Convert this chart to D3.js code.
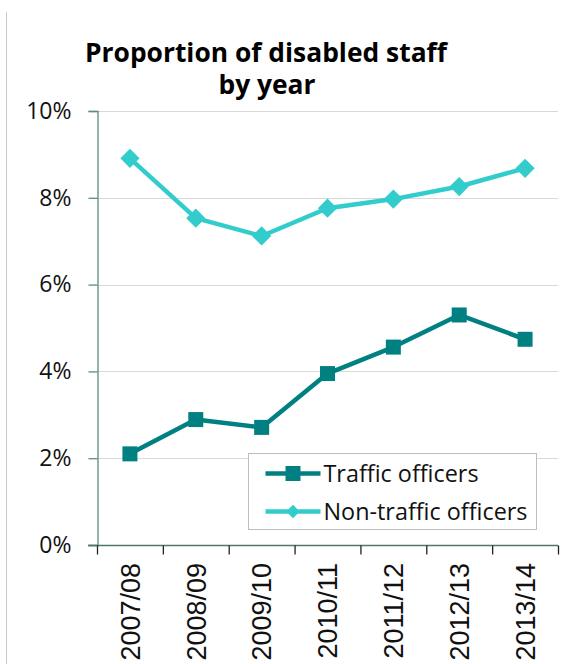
<!DOCTYPE html>
<html>
<head>
<meta charset="utf-8">
<script src="https://cdn.jsdelivr.net/npm/d3@7"></script>
<style>
  html, body { margin: 0; padding: 0; background: #fff; }
  svg { display: block; }
  text { font-variant-ligatures: none; }
</style>
</head>
<body>
<div id="chart"></div>
<script>
"use strict";

// --- data ---
const years = ["2007/08", "2008/09", "2009/10", "2010/11", "2011/12", "2012/13", "2013/14"];
const trafficOfficers = [2.10, 2.89, 2.71, 3.95, 4.56, 5.30, 4.74];
const nonTrafficOfficers = [8.91, 7.53, 7.12, 7.76, 7.97, 8.26, 8.68];
const yTicks = [0, 2, 4, 6, 8, 10];
const titleLines = ["Proportion of disabled staff", "by year"];
const series = [
    { name: "Traffic officers", values: trafficOfficers, color: "#008080", shape: "square" },
    { name: "Non-traffic officers", values: nonTrafficOfficers, color: "#33CCCC", shape: "diamond" }
];

const W = 580, H = 664;
const M = { left: 97, right: 558, top: 111, bottom: 545 };
const UI_FONT = "'Open Sans', Lato, sans-serif";

const svg = d3.select("#chart").append("svg").attr("width", W).attr("height", H);

// shrink/grow a text's font so it spans roughly the wanted width
const fitWidth = (sel, want) => {
    const node = sel.node();
    const fs = parseFloat(sel.style("font-size"));
    const got = node.getComputedTextLength();
    if (got > 0) sel.style("font-size", (fs * want / got).toFixed(2) + "px");
};

// chart frame edge on the left
svg.append("line")
    .attr("x1", 6.5).attr("x2", 6.5).attr("y1", 12).attr("y2", H)
    .attr("stroke", "#c8c8c8").attr("stroke-width", 1);

// scales
const x = d3.scaleLinear().domain([0, years.length]).range([M.left, M.right]);
const y = d3.scaleLinear().domain([0, 10]).range([M.bottom, M.top]);
const cx = i => x(i + 0.5);

// title (bold face squeezed to the reference width)
const title = svg.append("text")
    .attr("text-anchor", "middle")
    .style("font-family", UI_FONT).style("font-weight", "bold").style("font-size", "27px")
    .attr("fill", "#000");
title.append("tspan").attr("x", 266).attr("y", 62)
    .attr("textLength", 362).attr("lengthAdjust", "spacingAndGlyphs").text(titleLines[0]);
title.append("tspan").attr("x", 267).attr("y", 94)
    .attr("textLength", 97).attr("lengthAdjust", "spacingAndGlyphs").text(titleLines[1]);

// gridlines
svg.append("g")
    .selectAll("line").data(yTicks.filter(t => t > 0)).enter().append("line")
    .attr("x1", M.left).attr("x2", M.right)
    .attr("y1", d => Math.round(y(d)) + 0.5).attr("y2", d => Math.round(y(d)) + 0.5)
    .attr("stroke", "#d9d9d9").attr("stroke-width", 1.2);

// y axis
const yAxis = svg.append("g")
    .attr("transform", `translate(${M.left + 0.5},0)`)
    .call(d3.axisLeft(y).tickValues(yTicks).tickSize(9).tickPadding(17).tickFormat(d => d + "%"));
yAxis.select(".domain").attr("stroke", "#5f8a85").attr("stroke-width", 1.3);
yAxis.selectAll(".tick line").attr("stroke", "#5f8a85").attr("stroke-width", 1.3);
yAxis.selectAll(".tick text")
    .style("font-family", UI_FONT).style("font-size", "23px").attr("fill", "#111");

// x axis (ticks between categories)
const xAxis = svg.append("g")
    .attr("transform", `translate(0,${M.bottom + 0.5})`)
    .call(d3.axisBottom(x).tickValues(d3.range(years.length + 1)).tickSize(9).tickFormat(""));
xAxis.select(".domain").attr("stroke", "#4f7470").attr("stroke-width", 1.5)
    .attr("d", `M${M.left - 9},0H${M.right}`);
xAxis.selectAll(".tick line").attr("stroke", "#222").attr("stroke-width", 1.3);

svg.append("g")
    .selectAll("text").data(years).enter().append("text")
    .attr("transform", (d, i) => `translate(${cx(i)},563) rotate(-90)`)
    .attr("text-anchor", "end").attr("dy", "0.36em")
    .style("font-family", "'Liberation Sans', Arial, sans-serif").style("font-size", "27px")
    .attr("fill", "#111")
    .text(d => d);

// markers
const markerPath = (shape, scale = 1) => shape === "square"
    ? d3.symbol().type(d3.symbolSquare).size(225 * scale * scale)()
    : d3.symbol().type(d3.symbolSquare).size(185 * scale * scale)();
const markerRot = shape => shape === "square" ? 0 : 45;

// lines
const line = d3.line().x((d, i) => cx(i)).y(d => y(d));
series.forEach(s => {
    svg.append("path")
        .datum(s.values)
        .attr("d", line)
        .attr("fill", "none").attr("stroke", s.color).attr("stroke-width", 4.5)
        .attr("stroke-linejoin", "round");
    svg.append("g")
        .selectAll("path").data(s.values).enter().append("path")
        .attr("d", markerPath(s.shape))
        .attr("transform", (d, i) => `translate(${cx(i)},${y(d)}) rotate(${markerRot(s.shape)})`)
        .attr("fill", s.color);
});

// legend
const lg = svg.append("g").attr("transform", "translate(248.5,453.5)");
lg.append("rect")
    .attr("width", 288).attr("height", 76)
    .attr("fill", "#fff").attr("stroke", "#bdbdbd").attr("stroke-width", 1);
const items = lg.selectAll(".item").data(series).enter().append("g")
    .attr("transform", (d, i) => `translate(0,${20 + i * 38})`);
items.append("line")
    .attr("x1", 17).attr("x2", 72).attr("y1", 0).attr("y2", 0)
    .attr("stroke", d => d.color).attr("stroke-width", 4.5);
items.append("path")
    .attr("d", d => markerPath(d.shape, d.shape === "square" ? 1 : 0.7))
    .attr("transform", d => `translate(44.5,0) rotate(${markerRot(d.shape)})`)
    .attr("fill", d => d.color);
const legendText = items.append("text")
    .attr("x", 75).attr("dy", "0.35em")
    .style("font-family", UI_FONT).style("font-size", "22px").attr("fill", "#111")
    .text(d => d.name);
fitWidth(d3.select(legendText.nodes()[1]), 204);
d3.select(legendText.nodes()[0]).style("font-size", d3.select(legendText.nodes()[1]).style("font-size"));
</script>
</body>
</html>
